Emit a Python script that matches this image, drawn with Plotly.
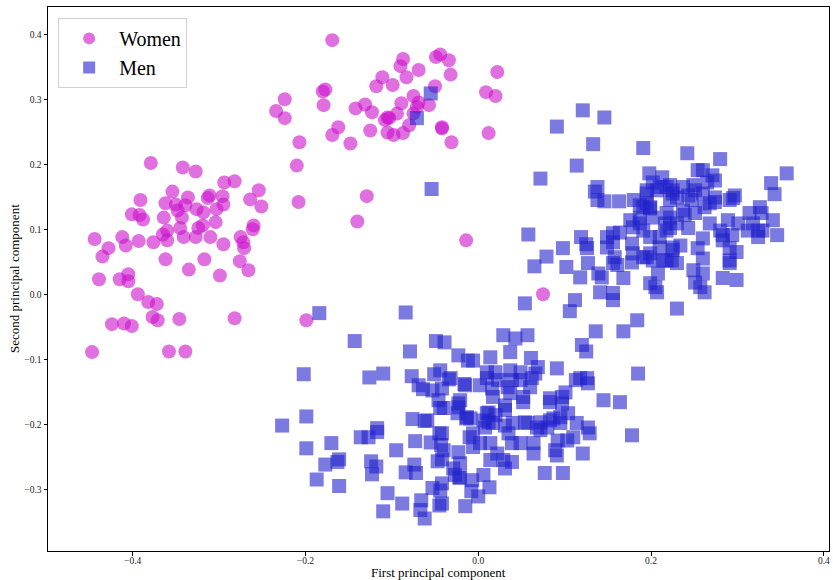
import plotly.graph_objects as go

# ---------------- data ----------------
women_x = [
    -0.379, -0.342, -0.327, -0.294, -0.282, -0.254, -0.264, -0.251, -0.391, -0.354,
    -0.362, -0.350, -0.336, -0.339, -0.326, -0.313, -0.311, -0.296, -0.295, -0.303,
    -0.318, -0.401, -0.392, -0.388, -0.364, -0.343, -0.348, -0.304, -0.260, -0.261,
    -0.444, -0.428, -0.435, -0.412, -0.408, -0.393, -0.376, -0.365, -0.360, -0.360,
    -0.345, -0.341, -0.327, -0.324, -0.319, -0.310, -0.295, -0.275, -0.272, -0.271,
    -0.362, -0.335, -0.317, -0.299, -0.276, -0.266, -0.439, -0.415, -0.405, -0.405,
    -0.394, -0.382, -0.372, -0.377, -0.371, -0.346, -0.282, -0.424, -0.410, -0.401,
    -0.447, -0.358, -0.339,
    -0.169, -0.224, -0.234, -0.224, -0.180, -0.177, -0.179, -0.207, -0.210, -0.208,
    -0.129, -0.140, -0.014, -0.162, -0.169, -0.148, -0.142, -0.131, -0.123, -0.125,
    -0.111, -0.118, -0.099, -0.090, -0.087, -0.069, -0.083, -0.049, -0.044, -0.034,
    -0.032, -0.050, -0.075, -0.089, -0.069, -0.057, -0.094, -0.105, -0.108, -0.103,
    -0.105, -0.098, -0.087, -0.080, -0.075, -0.071, -0.042, -0.042, -0.031, 0.022,
    0.009, 0.020, 0.012, 0.075, -0.199,
]
women_y = [
    0.202, 0.195, 0.189, 0.172, 0.174, 0.160, 0.146, 0.135, 0.145, 0.158,
    0.140, 0.138, 0.149, 0.137, 0.131, 0.148, 0.152, 0.151, 0.138, 0.131,
    0.126, 0.123, 0.122, 0.115, 0.118, 0.118, 0.129, 0.111, 0.106, 0.100,
    0.085, 0.071, 0.058, 0.088, 0.075, 0.082, 0.080, 0.092, 0.098, 0.083,
    0.102, 0.088, 0.088, 0.102, 0.106, 0.088, 0.077, 0.088, 0.080, 0.071,
    0.054, 0.038, 0.054, 0.029, 0.051, 0.037, 0.023, 0.023, 0.031, 0.020,
    0.000, -0.012, -0.015, -0.035, -0.040, -0.038, -0.037, -0.046, -0.045, -0.049,
    -0.089, -0.088, -0.088,
    0.391, 0.300, 0.282, 0.271, 0.312, 0.315, 0.291, 0.234, 0.198, 0.142,
    0.151, 0.112, 0.083, 0.257, 0.245, 0.232, 0.286, 0.292, 0.280, 0.252,
    0.334, 0.320, 0.322, 0.351, 0.362, 0.345, 0.334, 0.365, 0.369, 0.360,
    0.338, 0.320, 0.305, 0.294, 0.295, 0.291, 0.278, 0.272, 0.268, 0.271,
    0.249, 0.245, 0.248, 0.260, 0.278, 0.288, 0.257, 0.255, 0.234, 0.342,
    0.311, 0.305, 0.248, 0.000, -0.040,
]

men_x = [
    -0.055, -0.071, -0.054,
    -0.184, -0.084, -0.143, -0.049, -0.079, -0.023, -0.012, -0.202, -0.126, -0.110,
    -0.077, -0.051, -0.034, -0.069, -0.064, -0.053, -0.042, -0.046, -0.016, -0.021,
    -0.044, -0.024, -0.013, -0.199, -0.227, -0.076, -0.062, -0.117,
    -0.059, -0.023, -0.014, -0.199, -0.170, -0.136, -0.127, -0.117, -0.073, -0.055,
    -0.045, -0.043, -0.023, -0.010, -0.095, -0.177, -0.161, -0.163, -0.124, -0.118,
    -0.123, -0.074, -0.072, -0.084, -0.047, -0.042, -0.029, -0.022, -0.187, -0.161,
    -0.105, -0.088, -0.110, -0.066, -0.067, -0.062, -0.053, -0.044, -0.045, -0.015,
    -0.040, -0.023, 0.010, 0.012, 0.031, 0.031, 0.052, 0.083, 0.097, 0.145,
    0.164, -0.006, 0.008, 0.017, 0.031, 0.040, 0.057, 0.068, 0.080, 0.087,
    0.095, 0.104, 0.114, 0.129, 0.178, -0.042, 0.035, 0.039, 0.049, 0.064,
    0.072, 0.092, 0.103, 0.110, 0.089, 0.091, 0.121, -0.040, -0.006, 0.002,
    0.014, 0.022, 0.029, 0.039, 0.064, 0.014, 0.031, -0.021, -0.021, -0.027,
    0.006, -0.007, 0.013, 0.000, -0.008, -0.042, -0.042, 0.077, 0.098,
    0.054, 0.112, 0.106, 0.141, 0.156, 0.156, 0.184, 0.168, 0.136, 0.120,
    0.125, 0.029, 0.043, 0.057, -0.006, 0.014, 0.037, 0.061, 0.069, 0.091,
    0.118, 0.127, 0.126, 0.113, -0.032, -0.044, 0.010, 0.010, 0.020, 0.023,
    0.037, 0.049, 0.049, 0.039, 0.062, 0.060, 0.066, -0.015, 0.002, 0.016,
    0.034, 0.037, 0.052, 0.017, 0.012, 0.020, 0.083, 0.097, 0.101, 0.185,
    -0.039, 0.127, 0.095, 0.083, 0.072, 0.054, 0.006, -0.009,
    0.121, 0.091, 0.146, 0.133, 0.191, 0.114, 0.072, 0.198, 0.213, 0.135,
    0.138, 0.138, 0.146, 0.163, 0.180, 0.187, 0.195, 0.199, 0.195, 0.207,
    0.218, 0.225, 0.230, 0.222, 0.202, 0.187, 0.176, 0.179, 0.164, 0.156,
    0.149, 0.191, 0.199, 0.210, 0.218, 0.222, 0.230, 0.218, 0.058, 0.119,
    0.125, 0.126, 0.098, 0.102, 0.079, 0.065, 0.118, 0.139, 0.143, 0.168,
    0.156, 0.149, 0.158, 0.156, 0.178, 0.179, 0.178, 0.195, 0.202, 0.214,
    0.224, 0.225, 0.210, 0.127, 0.161, 0.199, 0.207, 0.230,
    0.242, 0.280, 0.357, 0.339, 0.343, 0.202, 0.195, 0.210, 0.222, 0.225,
    0.237, 0.249, 0.254, 0.260, 0.271, 0.274, 0.265, 0.243, 0.247, 0.251,
    0.260, 0.274, 0.268, 0.262, 0.274, 0.297, 0.295, 0.291, 0.191, 0.199,
    0.237, 0.239, 0.251, 0.187, 0.216, 0.222, 0.243, 0.268, 0.280, 0.289,
    0.301, 0.314, 0.326, 0.328, 0.341, 0.318, 0.312, 0.324, 0.329, 0.324,
    0.346, 0.283, 0.294, 0.283, 0.260, 0.254, 0.260, 0.291, 0.299, 0.291,
    0.291, 0.234, 0.225, 0.230, 0.218, 0.199, 0.191, 0.208, 0.205, 0.249,
    0.260, 0.251, 0.257, 0.262, 0.283, 0.299,
]
men_y = [
    0.309, 0.271, 0.162,
    -0.029, -0.028, -0.072, -0.072, -0.088, -0.094, -0.102, -0.123, -0.128, -0.122,
    -0.126, -0.123, -0.131, -0.140, -0.146, -0.148, -0.145, -0.163, -0.138, -0.163,
    -0.175, -0.183, -0.189, -0.188, -0.202, -0.192, -0.195, -0.206,
    -0.194, -0.174, -0.191, -0.237, -0.229, -0.220, -0.220, -0.212, -0.226, -0.228,
    -0.214, -0.232, -0.243, -0.220, -0.240, -0.262, -0.254, -0.258, -0.257, -0.265,
    -0.277, -0.262, -0.275, -0.274, -0.257, -0.254, -0.268, -0.282, -0.285, -0.295,
    -0.306, -0.322, -0.334, -0.317, -0.332, -0.345, -0.298, -0.302, -0.325, -0.326,
    -0.175, -0.168, -0.183, -0.197, -0.171, -0.178, -0.166, -0.166, -0.168, -0.163,
    -0.166, -0.214, -0.205, -0.198, -0.202, -0.198, -0.198, -0.205, -0.205, -0.191,
    -0.198, -0.183, -0.198, -0.214, -0.217, -0.214, -0.214, -0.229, -0.229, -0.229,
    -0.209, -0.225, -0.225, -0.220, -0.240, -0.248, -0.245, -0.240, -0.235, -0.229,
    -0.229, -0.245, -0.255, -0.258, -0.245, -0.255, -0.268, -0.260, -0.282, -0.278,
    -0.278, -0.286, -0.297, -0.311, -0.303, -0.291, -0.322, -0.275, -0.275,
    -0.014, -0.009, -0.026, 0.003, 0.002, -0.009, -0.040, -0.057, -0.057, -0.078,
    -0.088, -0.063, -0.068, -0.063, -0.102, -0.097, -0.089, -0.098, -0.112, -0.114,
    -0.129, -0.137, -0.129, -0.132, -0.129, -0.117, -0.120, -0.129, -0.120, -0.132,
    -0.117, -0.120, -0.132, -0.132, -0.129, -0.143, -0.122, -0.140, -0.140, -0.145,
    -0.143, -0.152, -0.158, -0.158, -0.182, -0.186, -0.160, -0.158, -0.151, -0.122,
    -0.074, -0.205, -0.189, -0.194, -0.197, -0.197, -0.194, -0.191,
    0.283, 0.258, 0.272, 0.231, 0.225, 0.198, 0.178, 0.186, 0.180, 0.158,
    0.165, 0.145, 0.143, 0.143, 0.145, 0.137, 0.140, 0.134, 0.155, 0.160,
    0.165, 0.160, 0.149, 0.145, 0.118, 0.117, 0.114, 0.103, 0.095, 0.094,
    0.088, 0.098, 0.088, 0.088, 0.098, 0.118, 0.109, 0.125, 0.092, 0.088,
    0.077, 0.071, 0.071, 0.042, 0.058, 0.043, 0.026, 0.032, 0.026, 0.025,
    0.080, 0.072, 0.057, 0.048, 0.078, 0.063, 0.049, 0.057, 0.052, 0.052,
    0.052, 0.068, 0.072, 0.048, 0.045, 0.017, 0.003, -0.022,
    0.217, 0.208, 0.186, 0.171, 0.154, 0.172, 0.160, 0.165, 0.168, 0.155,
    0.165, 0.168, 0.191, 0.191, 0.183, 0.175, 0.172, 0.152, 0.145, 0.160,
    0.155, 0.149, 0.140, 0.134, 0.142, 0.152, 0.148, 0.145, 0.134, 0.132,
    0.129, 0.122, 0.125, 0.109, 0.109, 0.102, 0.102, 0.109, 0.098, 0.114,
    0.109, 0.125, 0.134, 0.125, 0.114, 0.109, 0.098, 0.098, 0.098, 0.088,
    0.091, 0.091, 0.091, 0.083, 0.086, 0.071, 0.055, 0.071, 0.065, 0.052,
    0.048, 0.075, 0.072, 0.048, 0.052, 0.063, 0.057, 0.032, 0.011, 0.037,
    0.032, 0.018, 0.011, 0.003, 0.025, 0.022,
]

x_ticks = [-0.4, -0.2, 0.0, 0.2, 0.4]
x_tick_labels = ["\u22120.4", "\u22120.2", "0.0", "0.2", "0.4"]
y_ticks = [-0.3, -0.2, -0.1, 0.0, 0.1, 0.2, 0.3, 0.4]
y_tick_labels = ["\u22120.3", "\u22120.2", "\u22120.1", "0.0", "0.1", "0.2", "0.3", "0.4"]
x_title = "First principal component"
y_title = "Second principal component"

FONT = "Liberation Serif"

fig = go.Figure()
fig.add_trace(go.Scatter(
    x=women_x, y=women_y, mode="markers", name="Women",
    marker=dict(symbol="circle", size=14, color="#cc11cc", opacity=0.6, line=dict(width=0)),
))
fig.add_trace(go.Scatter(
    x=men_x, y=men_y, mode="markers", name="Men",
    marker=dict(symbol="square", size=14, color="#2222cc", opacity=0.6, line=dict(width=0)),
))

axis_common = dict(
    showgrid=False, zeroline=False, showline=True, mirror=True, automargin=False,
    linecolor="black", linewidth=1, ticks="outside", ticklen=3.5, tickwidth=0.8,
    tickcolor="black", tickfont=dict(family=FONT, size=9.5, color="#222"),
)

fig.update_layout(
    width=833, height=580,
    margin=dict(l=48, r=4, t=7, b=29),
    paper_bgcolor="white", plot_bgcolor="white",
    font=dict(family=FONT, color="black"),
    xaxis=dict(range=[-0.498, 0.406], tickvals=x_ticks, ticktext=x_tick_labels,
               ticklabelstandoff=-3, **axis_common),
    yaxis=dict(range=[-0.395, 0.442], tickvals=y_ticks, ticktext=y_tick_labels, **axis_common),
    legend=dict(x=0.013, y=0.98, xanchor="left", yanchor="top",
                bgcolor="white", bordercolor="#d0d0d0", borderwidth=1,
                font=dict(family=FONT, size=20), itemsizing="constant", itemwidth=50),
    showlegend=True,
    annotations=[
        dict(text=x_title, xref="paper", yref="paper", x=0.5, y=0, xanchor="center",
             yanchor="middle", yshift=-21, showarrow=False, font=dict(family=FONT, size=13)),
        dict(text=y_title, xref="paper", yref="paper", x=0, y=0.5, xanchor="center",
             yanchor="middle", xshift=-34, textangle=-90, showarrow=False,
             font=dict(family=FONT, size=13)),
    ],
)

fig.write_html("out.html", config={"displayModeBar": False},
               post_script="document.body.style.margin='0';")
